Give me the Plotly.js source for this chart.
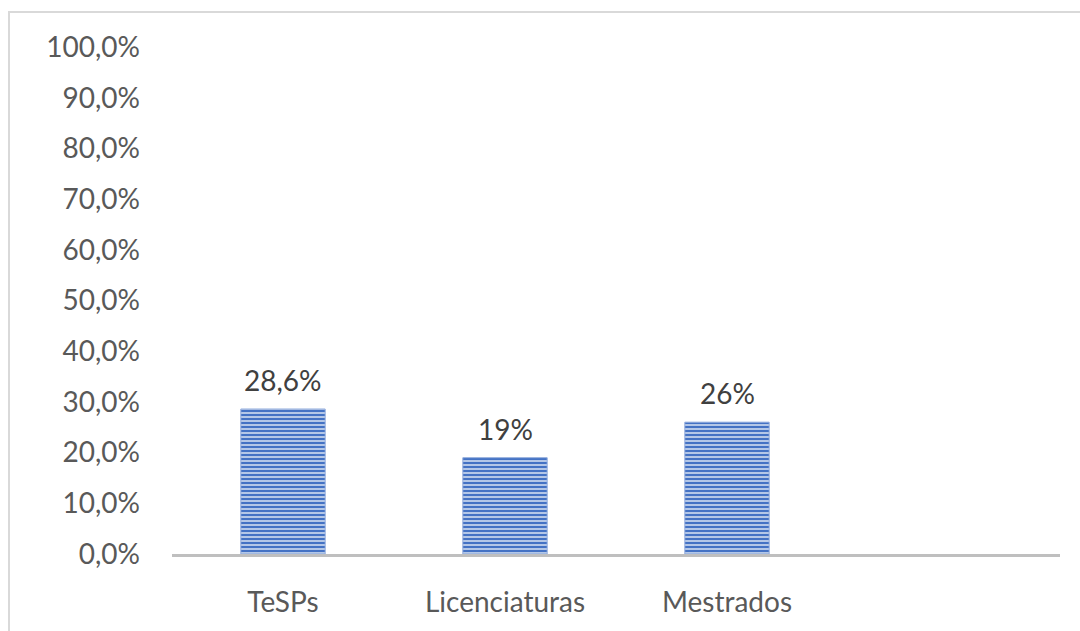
<!DOCTYPE html>
<html>
<head>
<meta charset="utf-8">
<script src="https://cdn.plot.ly/plotly-3.0.1.min.js"></script>
<style>
  body { margin: 0; background: #fff; }
  #wrap { position: relative; width: 1080px; height: 631px; overflow: hidden; }
  #frame { position: absolute; left: 8px; top: 11px; width: 1200px; height: 700px;
           border-left: 2px solid #d9d9d9; border-top: 2px solid #d9d9d9; pointer-events: none; }
</style>
</head>
<body>
<div id="wrap">
  <div id="plot" style="width:1080px;height:631px;"></div>
  <div id="frame"></div>
</div>
<script>
// categories (the last slot is empty in the original chart)
let categories = ["TeSPs", "Licenciaturas", "Mestrados", " "];
let shares = [0.286, 0.19, 0.26, null];
let shareLabels = ["28,6%", "19%", "26%", ""];

let barTrace = {
    x: categories,
    y: shares,
    type: "bar",
    marker: {
        color: "#4472c4",
        line: { color: "#8faadc", width: 1 },
        pattern: { shape: "-", fgcolor: "#b4c7e7", bgcolor: "#4472c4", size: 4, solidity: 0.5 }
    },
    hoverinfo: "none"
};

// value labels above the bars
let valueNotes = categories.slice(0, 3).map((c, i) => ({
    x: c,
    y: shares[i],
    text: shareLabels[i],
    showarrow: false,
    yanchor: "bottom",
    yshift: 10,
    font: { family: "Lato, sans-serif", size: 28, color: "#404040" }
}));

let layout = {
    width: 1080,
    height: 631,
    margin: { l: 172, r: 20, t: 47, b: 77 },
    paper_bgcolor: "#ffffff",
    plot_bgcolor: "#ffffff",
    separators: ", ",
    showlegend: false,
    bargap: 0.62,
    font: { family: "Lato, sans-serif", size: 28, color: "#595959" },
    xaxis: {
        type: "category",
        range: [-0.5, 3.5],
        showline: true,
        linecolor: "#bfbfbf",
        linewidth: 3,
        ticks: "",
        showgrid: false,
        ticklabelstandoff: 21,
        tickfont: { size: 28, color: "#595959" }
    },
    yaxis: {
        range: [0, 1],
        tick0: 0,
        dtick: 0.1,
        tickformat: ".1%",
        showgrid: false,
        zeroline: false,
        showline: false,
        ticks: "",
        ticklabelstandoff: 31,
        tickfont: { size: 28, color: "#595959" }
    },
    annotations: valueNotes
};

Plotly.newPlot("plot", [barTrace], layout, { staticPlot: true });
</script>
</body>
</html>
